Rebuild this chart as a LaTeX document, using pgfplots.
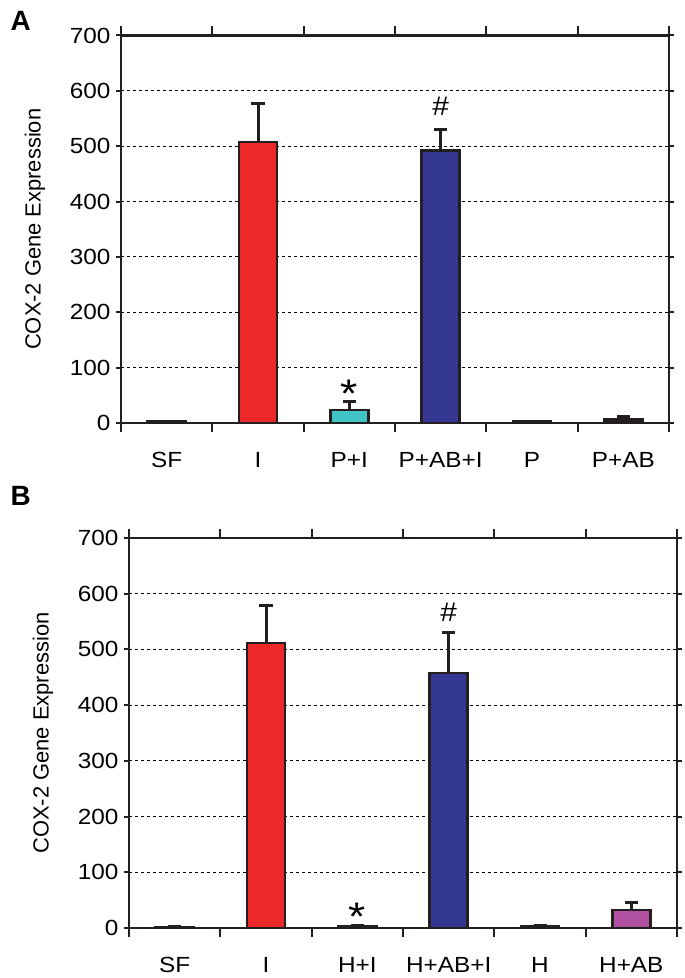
\documentclass[border=0pt]{standalone}
\usepackage{fontspec}
\setmainfont{Liberation Sans}
\newfontfamily\wide[FakeStretch=1.11]{Liberation Sans}
\usepackage{pgfplots}
\pgfplotsset{compat=1.18}
\definecolor{cred}{RGB}{236,40,40}
\definecolor{ccyan}{RGB}{64,196,196}
\definecolor{cblue}{RGB}{53,56,146}
\definecolor{cmag}{RGB}{176,80,160}
\definecolor{edge}{RGB}{35,31,32}
\pgfplotsset{
 panel/.style={
  scale only axis, width=548bp,
  xmin=-0.5, xmax=5.5, ymin=0, ymax=700,
  ytick={0,100,...,700},
  xtick={0,...,5},
  minor xtick={-0.5,0.5,...,5.5},
  major x tick style={draw=none},
  minor tick length=9bp,
  major tick length=5bp,
  tick align=outside,
  tick style={line width=2bp, color=edge},
  ymajorgrids, grid style={dashed, black, line width=0.9bp},
  axis line style={line width=2.2bp, color=edge},
  ybar, bar width=38bp, bar shift=0pt,
  yticklabel style={font=\wide\fontsize{22}{22}\selectfont, /pgf/number format/assume math mode=true, xshift=-2bp},
  xticklabel style={font=\wide\fontsize{22}{22}\selectfont, yshift=-21bp},
  ylabel={COX-2 Gene Expression},
  ylabel style={font=\fontsize{22}{22}\selectfont, at={(axis description cs:-0.157,0.5)}, anchor=center},
  every axis plot/.append style={draw=edge, line width=2.4bp,
    error bars/y dir=plus, error bars/y explicit,
    error bars/error bar style={line width=3bp, color=edge, solid},
    error bars/error mark options={rotate=90, line width=3bp, mark size=6.5bp, color=edge}},
 }
}
\begin{document}
\begin{tikzpicture}
\useasboundingbox (0,0) rectangle (685bp,978bp);
\node[anchor=base west, font=\bfseries\fontsize{28}{28}\selectfont] at (7bp,947bp) {A};
\node[anchor=base west, font=\bfseries\fontsize{28}{28}\selectfont] at (7bp,472bp) {B};
\begin{axis}[panel, at={(121bp,555bp)}, anchor=south west, height=387.5bp,
  xticklabels={SF,I,P+I,P+AB+I,P,P+AB}]
\addplot[fill=edge] coordinates {(0,3) +- (0,0)};
\addplot[fill=cred] coordinates {(1,508) +- (0,70)};
\addplot[fill=ccyan] coordinates {(2,24) +- (0,14)};
\addplot[fill=cblue] coordinates {(3,492) +- (0,38)};
\addplot[fill=edge] coordinates {(4,3) +- (0,0)};
\addplot[fill=edge] coordinates {(5,6) +- (0,6)};
\node[font=\wide\fontsize{40}{40}\selectfont] at (axis cs:2,53) {*};
\node[font=\wide\fontsize{27}{27}\selectfont] at (axis cs:3,573) {\#};
\end{axis}
\begin{axis}[panel, at={(129bp,50bp)}, anchor=south west, height=390bp,
  xticklabels={SF,I,H+I,H+AB+I,H,H+AB}]
\addplot[fill=edge] coordinates {(0,2) +- (0,0)};
\addplot[fill=cred] coordinates {(1,512) +- (0,67)};
\addplot[fill=edge] coordinates {(2,3) +- (0,2)};
\addplot[fill=cblue] coordinates {(3,458) +- (0,73)};
\addplot[fill=edge] coordinates {(4,3) +- (0,1)};
\addplot[fill=cmag] coordinates {(5,32) +- (0,13)};
\node[font=\wide\fontsize{40}{40}\selectfont] at (axis cs:2,20) {*};
\node[font=\wide\fontsize{27}{27}\selectfont] at (axis cs:3,567) {\#};
\end{axis}
\end{tikzpicture}
\end{document}
